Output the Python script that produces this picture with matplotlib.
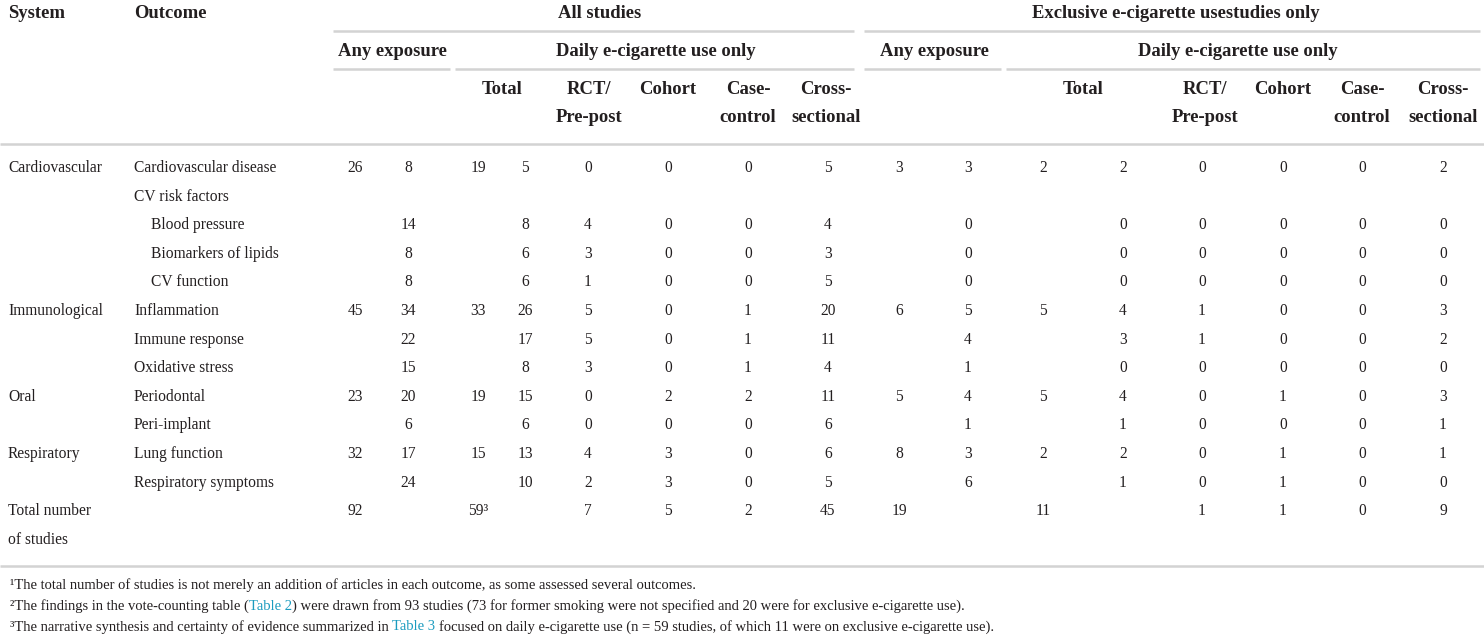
import matplotlib
matplotlib.use("Agg")
import matplotlib.pyplot as plt

# ---------------- data ----------------
systems = ["Cardiovascular", "", "", "", "", "Immunological", "", "", "Oral", "", "Respiratory", "", "Total number"]
outcomes = ["Cardiovascular disease", "CV risk factors", "Blood pressure", "Biomarkers of lipids",
            "CV function", "Inflammation", "Immune response", "Oxidative stress",
            "Periodontal", "Peri-implant", "Lung function", "Respiratory symptoms", ""]
indented = [False, False, True, True, True, False, False, False, False, False, False, False, False]

# All studies: any exposure (system, outcome), daily total (system, outcome), RCT, cohort, case-control, cross-sectional
all_any_sys =   ["26", "", "", "", "", "45", "", "", "23", "", "32", "", "92"]
all_any_out =   ["8", "", "14", "8", "8", "34", "22", "15", "20", "6", "17", "24", ""]
all_tot_sys =   ["19", "", "", "", "", "33", "", "", "19", "", "15", "", "59³"]
all_tot_out =   ["5", "", "8", "6", "6", "26", "17", "8", "15", "6", "13", "10", ""]
all_rct =       ["0", "", "4", "3", "1", "5", "5", "3", "0", "0", "4", "2", "7"]
all_cohort =    ["0", "", "0", "0", "0", "0", "0", "0", "2", "0", "3", "3", "5"]
all_case =      ["0", "", "0", "0", "0", "1", "1", "1", "2", "0", "0", "0", "2"]
all_cross =     ["5", "", "4", "3", "5", "20", "11", "4", "11", "6", "6", "5", "45"]

# Exclusive e-cigarette use studies only
exc_any_sys =   ["3", "", "", "", "", "6", "", "", "5", "", "8", "", "19"]
exc_any_out =   ["3", "", "0", "0", "0", "5", "4", "1", "4", "1", "3", "6", ""]
exc_tot_sys =   ["2", "", "", "", "", "5", "", "", "5", "", "2", "", "11"]
exc_tot_out =   ["2", "", "0", "0", "0", "4", "3", "0", "4", "1", "2", "1", ""]
exc_rct =       ["0", "", "0", "0", "0", "1", "1", "0", "0", "0", "0", "0", "1"]
exc_cohort =    ["0", "", "0", "0", "0", "0", "0", "0", "1", "0", "1", "1", "1"]
exc_case =      ["0", "", "0", "0", "0", "0", "0", "0", "0", "0", "0", "0", "0"]
exc_cross =     ["2", "", "0", "0", "0", "3", "2", "0", "3", "1", "1", "0", "9"]

group_titles = ["All studies", "Exclusive e-cigarette usestudies only"]
sub_titles = ["Any exposure", "Daily e-cigarette use only"]
design_titles = ["Total", "RCT/\nPre-post", "Cohort", "Case-\ncontrol", "Cross-\nsectional"]

footnotes = [
    [("¹The total number of studies is not merely an addition of articles in each outcome, as some assessed several outcomes.", False)],
    [("²The findings in the vote-counting table (", False), ("Table 2", True),
     (") were drawn from 93 studies (73 for former smoking were not specified and 20 were for exclusive e-cigarette use).", False)],
    [("³The narrative synthesis and certainty of evidence summarized in", False), (" ", False), ("Table 3", True),
     (" ", False), ("focused on daily e-cigarette use (n = 59 studies, of which 11 were on exclusive e-cigarette use).", False)],
]

# ---------------- layout ----------------
W, H = 1484, 637
fig = plt.figure(figsize=(W / 100, H / 100), dpi=100)
ax = fig.add_axes([0, 0, 1, 1])
ax.set_xlim(0, W)
ax.set_ylim(H, 0)
ax.axis("off")

FONT = "Liberation Serif"
TXT = "#231f20"
LINK = "#1a9bbf"
LINE = "#d3d3d3"
BODY = 11.2
HEAD = 13.4
FOOT = 10.5

def t(x, y, s, ha="center", bold=False, size=BODY, color=TXT):
    return ax.text(x, y, s, ha=ha, va="center", fontsize=size, family=FONT,
                   fontweight="bold" if bold else "normal", color=color)

def hline(x0, x1, y):
    ax.plot([x0, x1], [y, y], color=LINE, lw=1.8, solid_capstyle="butt")

# header
t(8, 13, "System", ha="left", bold=True, size=HEAD)
t(134, 13, "Outcome", ha="left", bold=True, size=HEAD)
t(600, 13, group_titles[0], bold=True, size=HEAD)
t(1176, 13, group_titles[1], bold=True, size=HEAD)
hline(333, 854, 31)
hline(864, 1480, 31)

t(392, 51, sub_titles[0], bold=True, size=HEAD)
t(656, 51, sub_titles[1], bold=True, size=HEAD)
t(934, 51, sub_titles[0], bold=True, size=HEAD)
t(1238, 51, sub_titles[1], bold=True, size=HEAD)
hline(333, 450, 69)
hline(455, 854, 69)
hline(864, 1001, 69)
hline(1006, 1480, 69)

design_x_all = [502, 589, 668, 748, 826]
design_x_exc = [1083, 1205, 1283, 1362, 1443]
for xs in (design_x_all, design_x_exc):
    for x, s in zip(xs, design_titles):
        lines = s.split("\n")
        for k, ln in enumerate(lines):
            t(x, 89 + k * 28, ln, bold=True, size=HEAD)

hline(0, W, 144)

# body
row_y0, row_dy = 168, 28.6
all_cols = [all_any_sys, all_any_out, all_tot_sys, all_tot_out, all_rct, all_cohort, all_case, all_cross]
exc_cols = [exc_any_sys, exc_any_out, exc_tot_sys, exc_tot_out, exc_rct, exc_cohort, exc_case, exc_cross]
all_x = [355, 408, 478, 525, 588, 668, 748, 828]
exc_x = [899, 968, 1043, 1123, 1202, 1283, 1362, 1443]

for i in range(len(outcomes)):
    y = row_y0 + i * row_dy
    if systems[i]:
        t(8, y, systems[i], ha="left")
    if outcomes[i]:
        t(151 if indented[i] else 134, y, outcomes[i], ha="left")
    for col, x in zip(all_cols + exc_cols, all_x + exc_x):
        if col[i]:
            t(x, y, col[i])
t(8, row_y0 + 13 * row_dy, "of studies", ha="left")

hline(0, W, 566)

# footnotes
fig.canvas.draw()
renderer = fig.canvas.get_renderer()
for j, pieces in enumerate(footnotes):
    x = 10
    y = 585 + j * 21
    for s, is_link in pieces:
        if s == " ":
            a = ax.text(0, -50, "a a", fontsize=FOOT, family=FONT)
            b = ax.text(0, -50, "aa", fontsize=FOOT, family=FONT)
            x += a.get_window_extent(renderer).width - b.get_window_extent(renderer).width
            a.remove(); b.remove()
            continue
        tx = t(x, y, s, ha="left", size=FOOT, color=LINK if is_link else TXT)
        x += tx.get_window_extent(renderer).width

fig.savefig("out.png", dpi=100)
